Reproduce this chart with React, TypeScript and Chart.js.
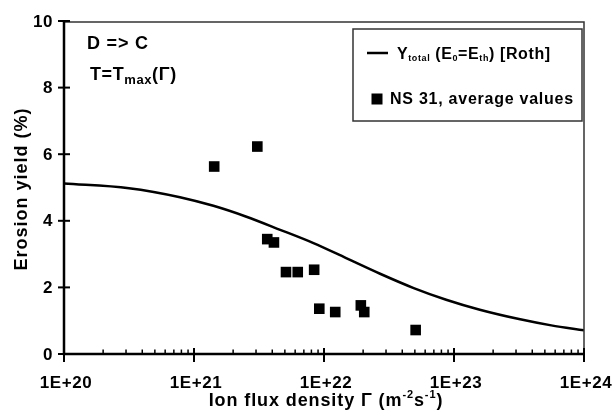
import { useEffect, useRef } from "react";
import { Chart, registerables } from "chart.js";

Chart.register(...registerables);

// ---- data ----
const curveFlux = [1e20, 3.16e20, 7.8e20, 1.41e21, 2.5e21, 4.6e21, 8.3e21, 1.48e22, 2.7e22, 4.9e22, 8.7e22, 1.58e23, 3.16e23, 5.6e23, 1e24];
const curveYield = [5.12, 4.98, 4.71, 4.45, 4.13, 3.73, 3.33, 2.88, 2.41, 1.98, 1.63, 1.33, 1.05, 0.86, 0.71];

const pointFlux = [1.43e21, 3.07e21, 3.66e21, 4.12e21, 5.1e21, 6.28e21, 8.4e21, 9.2e21, 1.22e22, 1.92e22, 2.04e22, 5.07e22];
const pointYield = [5.63, 6.23, 3.45, 3.35, 2.46, 2.46, 2.53, 1.36, 1.26, 1.46, 1.26, 0.72];

const yTickValues = [0, 2, 4, 6, 8, 10];
const xDecades = [20, 21, 22, 23, 24];
const xTickLabels = ["1E+20", "1E+21", "1E+22", "1E+23", "1E+24"];
const yAxisTitle = "Erosion yield (%)";
const curveLabel = "Ytotal (E0=Eth) [Roth]";
const pointLabel = "NS 31, average values";

const FONT = '"Liberation Sans", Arial, Helvetica, sans-serif';

type Part = { t: string; size: number; dy?: number };

function drawRich(ctx: CanvasRenderingContext2D, x: number, y: number, parts: Part[], align: "left" | "center" = "left", spacing = 0) {
  ctx.textAlign = "left";
  let total = 0;
  const widths = parts.map((p) => {
    ctx.font = `bold ${p.size}px ${FONT}`;
    (ctx as any).letterSpacing = `${spacing}px`;
    const w = ctx.measureText(p.t).width;
    total += w;
    return w;
  });
  let cx = align === "center" ? x - total / 2 : x;
  parts.forEach((p, i) => {
    ctx.font = `bold ${p.size}px ${FONT}`;
    (ctx as any).letterSpacing = `${spacing}px`;
    ctx.fillText(p.t, cx, y + (p.dy || 0));
    cx += widths[i];
  });
  (ctx as any).letterSpacing = "0px";
}

const overlay = {
  id: "overlay",
  afterDatasetsDraw(chart: any) {
    const ctx: CanvasRenderingContext2D = chart.ctx;
    const { left, right, top, bottom } = chart.chartArea;
    const xs = chart.scales.x;
    const ys = chart.scales.y;
    ctx.save();
    ctx.fillStyle = "#000";

    // frame top & right
    ctx.strokeStyle = "#333";
    ctx.lineWidth = 1.5;
    ctx.beginPath();
    ctx.moveTo(left, top + 1);
    ctx.lineTo(right, top + 1);
    ctx.lineTo(right, bottom);
    ctx.stroke();

    // axes
    ctx.strokeStyle = "#000";
    ctx.lineWidth = 2.5;
    ctx.beginPath();
    ctx.moveTo(left, top);
    ctx.lineTo(left, bottom);
    ctx.lineTo(right, bottom);
    ctx.stroke();

    // y ticks + labels
    ctx.lineWidth = 2;
    ctx.textBaseline = "middle";
    yTickValues.forEach((v) => {
      const py = ys.getPixelForValue(v);
      ctx.beginPath();
      ctx.moveTo(left - 6, py);
      ctx.lineTo(left + 6, py);
      ctx.stroke();
      ctx.font = `bold 17px ${FONT}`;
      ctx.textAlign = "right";
      (ctx as any).letterSpacing = "0.5px";
      ctx.fillText(String(v), left - 11, py + 1);
    });
    (ctx as any).letterSpacing = "0px";

    // x ticks + labels
    xDecades.forEach((e, i) => {
      const pMajor = xs.getPixelForValue(Math.pow(10, e));
      ctx.lineWidth = 2;
      ctx.beginPath();
      ctx.moveTo(pMajor, bottom - 6);
      ctx.lineTo(pMajor, bottom + 8);
      ctx.stroke();
      ctx.textBaseline = "middle";
      drawRich(ctx, pMajor + 2, bottom + 29, [{ t: xTickLabels[i], size: 17 }], "center", 0.6);
      if (i < xDecades.length - 1) {
        for (let m = 2; m <= 9; m++) {
          const pm = xs.getPixelForValue(m * Math.pow(10, e));
          ctx.lineWidth = 1.5;
          ctx.beginPath();
          ctx.moveTo(pm, bottom - 4.5);
          ctx.lineTo(pm, bottom);
          ctx.stroke();
        }
      }
    });

    // x title
    ctx.textBaseline = "alphabetic";
    drawRich(
      ctx,
      326,
      406,
      [
        { t: "Ion flux density Γ (m", size: 18 },
        { t: "-2", size: 11, dy: -8 },
        { t: "s", size: 18 },
        { t: "-1", size: 11, dy: -8 },
        { t: ")", size: 18 },
      ],
      "center",
      0.9
    );

    // y title
    ctx.save();
    ctx.translate(22, 189);
    ctx.rotate(-Math.PI / 2);
    ctx.textBaseline = "middle";
    drawRich(ctx, 0, 0, [{ t: yAxisTitle, size: 18 }], "center", 1);
    ctx.restore();

    // annotations
    ctx.textBaseline = "alphabetic";
    drawRich(ctx, 87, 48.5, [{ t: "D => C", size: 18 }], "left", 0.8);
    drawRich(
      ctx,
      90,
      80,
      [
        { t: "T=T", size: 18 },
        { t: "max", size: 13, dy: 4 },
        { t: "(Γ)", size: 18 },
      ],
      "left",
      0.6
    );

    // legend box
    ctx.strokeStyle = "#333";
    ctx.lineWidth = 1.5;
    ctx.strokeRect(353, 29, 229, 92);
    ctx.strokeStyle = "#000";
    ctx.lineWidth = 2.5;
    ctx.beginPath();
    ctx.moveTo(367, 53);
    ctx.lineTo(388, 53);
    ctx.stroke();
    ctx.textBaseline = "alphabetic";
    const cl = curveLabel; // "Ytotal (E0=Eth) [Roth]"
    void cl;
    drawRich(
      ctx,
      397,
      59,
      [
        { t: "Y", size: 16 },
        { t: "total", size: 9, dy: 2 },
        { t: " (E", size: 16 },
        { t: "0", size: 9, dy: 2 },
        { t: "=E", size: 16 },
        { t: "th", size: 9, dy: 2 },
        { t: ") [Roth]", size: 16 },
      ],
      "left",
      0.6
    );
    ctx.fillRect(371.5, 93.5, 11, 11);
    ctx.textBaseline = "middle";
    drawRich(ctx, 390, 100, [{ t: pointLabel, size: 16 }], "left", 0.75);

    ctx.restore();
  },
};

export default function App() {
  const ref = useRef<HTMLCanvasElement | null>(null);

  useEffect(() => {
    document.body.style.margin = "0";
    if (!ref.current) return;
    const chart = new Chart(ref.current, {
      type: "scatter",
      data: {
        datasets: [
          {
            label: curveLabel,
            data: curveFlux.map((x, i) => ({ x, y: curveYield[i] })),
            showLine: true,
            borderColor: "#000",
            borderWidth: 2.5,
            pointRadius: 0,
            cubicInterpolationMode: "monotone",
            fill: false,
          } as any,
          {
            label: pointLabel,
            data: pointFlux.map((x, i) => ({ x, y: pointYield[i] })),
            pointStyle: "rect",
            pointRadius: 7.5,
            backgroundColor: "#000",
            borderColor: "#000",
            borderWidth: 0,
            showLine: false,
          } as any,
        ],
      },
      options: {
        responsive: false,
        animation: false,
        layout: { padding: { top: 21, right: 30, left: 0, bottom: 0 } },
        plugins: { legend: { display: false }, tooltip: { enabled: false } },
        scales: {
          x: {
            type: "logarithmic",
            min: 1e20,
            max: 1e24,
            grid: { display: false },
            border: { display: false },
            ticks: { display: false },
            afterFit: (s: any) => {
              s.height = 60;
            },
          },
          y: {
            min: 0,
            max: 10,
            grid: { display: false },
            border: { display: false },
            ticks: { display: false, stepSize: 2 },
            afterFit: (s: any) => {
              s.width = 64;
            },
          },
        },
      } as any,
      plugins: [overlay],
    });
    return () => chart.destroy();
  }, []);

  return (
    <div style={{ position: "absolute", left: 0, top: 0, width: 614, height: 414, background: "#fff" }}>
      <canvas ref={ref} width={614} height={414} />
    </div>
  );
}
